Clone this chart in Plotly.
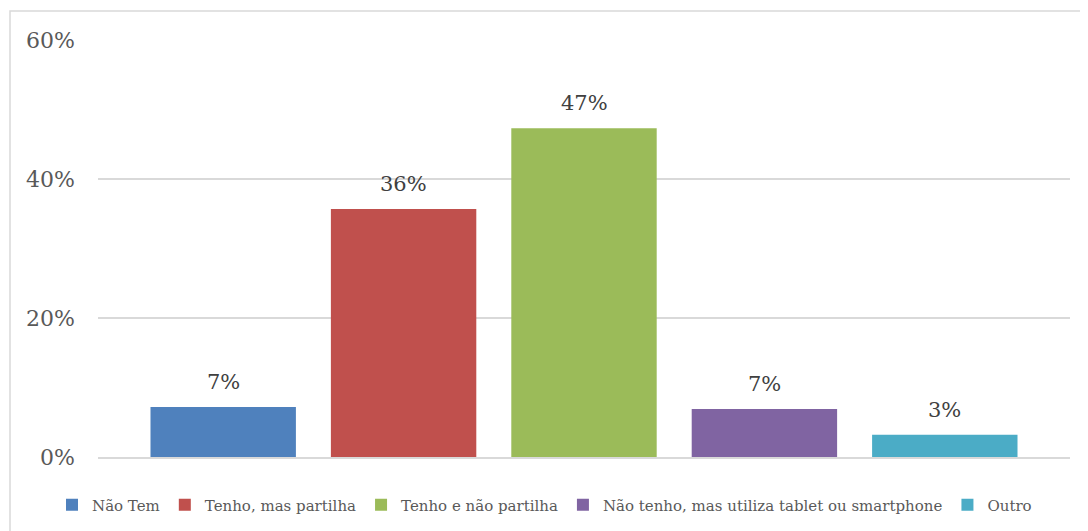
import plotly.graph_objects as go

series = ["Não Tem", "Tenho, mas partilha", "Tenho e não partilha",
          "Não tenho, mas utiliza tablet ou smartphone", "Outro"]
values = [0.072, 0.357, 0.473, 0.069, 0.032]
labels = ["7%", "36%", "47%", "7%", "3%"]
colors = ["#4f81bd", "#c0504d", "#9bbb59", "#8064a2", "#4bacc6"]
category = ["Total"]

FONT = "DejaVu Serif"
# page body has an 8px margin; figure sized to fit the 1088x531 window
W, H = 1080, 523
L, R, T, B = 90, 18, 32, 74
PW, PH = W - L - R, H - T - B
BARGAP = 0.072
SLOT = PW * (1 - BARGAP) / len(series)

fig = go.Figure()
for name, v, c in zip(series, values, colors):
    fig.add_trace(go.Bar(
        x=category, y=[v], name=name, marker=dict(color=c, line=dict(width=0)),
        hoverinfo="skip",
    ))

annotations = []
n = len(series)
for i, (v, lab) in enumerate(zip(values, labels)):
    annotations.append(dict(
        x=category[0], y=v, xref="x", yref="y", text=lab, showarrow=False,
        xanchor="center", yanchor="bottom", xshift=(i - (n - 1) / 2) * SLOT, yshift=11,
        font=dict(family=FONT, size=21, color="#404040"),
    ))

fig.update_layout(
    width=W, height=H,
    margin=dict(l=L, r=R, t=T, b=B, autoexpand=False),
    paper_bgcolor="white", plot_bgcolor="white",
    barmode="group", bargap=BARGAP, bargroupgap=0.194,
    showlegend=True,
    legend=dict(orientation="h", x=(44 - L) / PW, xanchor="left",
                y=-(497 - (T + PH)) / PH, yanchor="middle",
                font=dict(family=FONT, size=15, color="#595959"),
                itemwidth=30, traceorder="normal"),
    xaxis=dict(type="category", showticklabels=False, showgrid=False, zeroline=False,
               showline=True, linecolor="#d9d9d9", linewidth=1.5),
    yaxis=dict(range=[0, 0.6], dtick=0.2, tickformat=".0%",
               showgrid=True, gridcolor="#d9d9d9", gridwidth=1.5,
               zeroline=False, ticks="", ticklabelstandoff=22,
               tickfont=dict(family=FONT, size=22, color="#595959")),
    annotations=annotations,
    shapes=[dict(type="rect", xref="paper", yref="paper",
                 x0=(2 - L) / PW, x1=(1100 - L) / PW,
                 y0=-(545 - (T + PH)) / PH, y1=((T + PH) - 3) / PH,
                 line=dict(color="#d9d9d9", width=1.5), fillcolor="rgba(0,0,0,0)",
                 layer="below")],
)

fig.write_html("out.html")
